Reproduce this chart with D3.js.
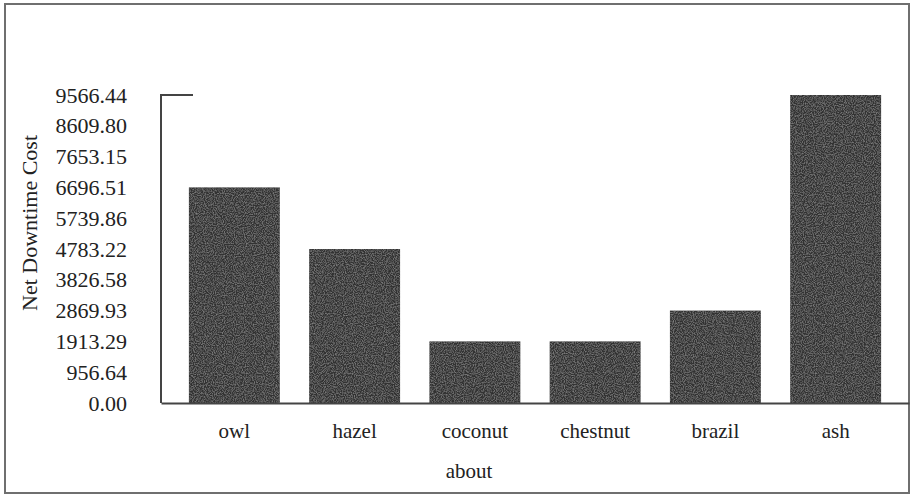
<!DOCTYPE html>
<html>
<head>
<meta charset="utf-8">
<script src="https://cdn.jsdelivr.net/npm/d3@7"></script>
<style>
  body { margin: 0; background: #fff; }
  text { font-family: "Liberation Serif", "Times New Roman", serif; fill: #222; }
</style>
</head>
<body>
<div id="chart"></div>
<script>
const categories = ['owl', 'hazel', 'coconut', 'chestnut', 'brazil', 'ash'];
const costs = [6696.51, 4783.22, 1913.29, 1913.29, 2869.93, 9566.44];
const tickLabels = ['0.00', '956.64', '1913.29', '2869.93', '3826.58', '4783.22',
  '5739.86', '6696.51', '7653.15', '8609.80', '9566.44'];

const W = 912, H = 495;
const svg = d3.select('#chart').append('svg')
  .attr('width', W)
  .attr('height', H);

// grainy fill for the bars, like the scanned print
const defs = svg.append('defs');
const grain = defs.append('filter').attr('id', 'grain');
grain.append('feTurbulence')
  .attr('type', 'fractalNoise')
  .attr('baseFrequency', 0.9)
  .attr('numOctaves', 2)
  .attr('seed', 3)
  .attr('result', 'noise');
grain.append('feColorMatrix')
  .attr('in', 'noise')
  .attr('type', 'matrix')
  .attr('values', '0 0 0 0 0.45  0 0 0 0 0.45  0 0 0 0 0.45  0 0 0 0.9 -0.35')
  .attr('result', 'speck');
grain.append('feComposite')
  .attr('in', 'speck')
  .attr('in2', 'SourceGraphic')
  .attr('operator', 'in')
  .attr('result', 'specks');
grain.append('feMerge').selectAll('feMergeNode')
  .data(['SourceGraphic', 'specks'])
  .enter().append('feMergeNode')
  .attr('in', d => d);

// outer frame
svg.append('rect')
  .attr('x', 5)
  .attr('y', 4)
  .attr('width', 904)
  .attr('height', 489)
  .attr('fill', 'none')
  .attr('stroke', '#6f6f6f')
  .attr('stroke-width', 2);

const plotLeft = 161, plotRight = 909, plotTop = 95, plotBottom = 403;
const yMax = +tickLabels[tickLabels.length - 1];

const xScale = d3.scaleBand()
  .domain(categories)
  .range([plotLeft, plotRight])
  .paddingInner(0.244)
  .paddingOuter(0.232);

const yScale = d3.scaleLinear()
  .domain([0, yMax])
  .range([plotBottom, plotTop]);

// bars
svg.append('g')
  .selectAll('rect')
  .data(categories)
  .enter()
  .append('rect')
  .attr('x', d => xScale(d))
  .attr('y', (d, i) => yScale(costs[i]))
  .attr('width', xScale.bandwidth())
  .attr('height', (d, i) => plotBottom - yScale(costs[i]))
  .attr('fill', '#333')
  .attr('filter', 'url(#grain)');

// y axis
const yAxis = svg.append('g')
  .attr('transform', `translate(${plotLeft},0)`)
  .call(d3.axisLeft(yScale)
    .tickValues(tickLabels.map(Number))
    .tickFormat((d, i) => tickLabels[i])
    .tickSize(0)
    .tickPadding(34));
yAxis.select('.domain').remove();
yAxis.selectAll('text')
  .style('font-size', '22px')
  .style('font-family', '"Liberation Serif", serif')
  .attr('fill', '#222');

svg.append('path')
  .attr('d', `M${plotLeft + 32},${yScale(yMax)}H${plotLeft}V${plotBottom}`)
  .attr('fill', 'none')
  .attr('stroke', '#444')
  .attr('stroke-width', 2);

// x axis
const xAxis = svg.append('g')
  .attr('transform', `translate(0,${plotBottom})`)
  .call(d3.axisBottom(xScale).tickSize(0).tickPadding(20));
xAxis.select('.domain')
  .attr('stroke', '#444')
  .attr('stroke-width', 2);
xAxis.selectAll('text')
  .style('font-size', '21px')
  .style('font-family', '"Liberation Serif", serif')
  .attr('fill', '#222');

// axis titles
svg.append('text')
  .attr('x', 469)
  .attr('y', 478)
  .attr('text-anchor', 'middle')
  .style('font-size', '21px')
  .text('about');

svg.append('text')
  .attr('transform', 'translate(37,223) rotate(-90)')
  .attr('text-anchor', 'middle')
  .style('font-size', '22px')
  .text('Net Downtime Cost');
</script>
</body>
</html>
